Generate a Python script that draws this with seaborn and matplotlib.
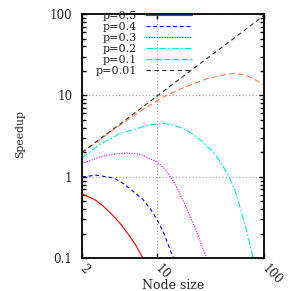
import numpy as np
import pandas as pd
import matplotlib
matplotlib.use("Agg")
import matplotlib.pyplot as plt
import seaborn as sns
from matplotlib.ticker import LogLocator, NullLocator, NullFormatter

# values (node size, speedup)
p_labels = ["p=0.5", "p=0.4", "p=0.3", "p=0.2", "p=0.1", "p=0.01"]

n_p05 = [2, 2.62, 3.1, 3.74, 4.5, 5.35, 6.3, 7.41, 7.7]
s_p05 = [0.62, 0.527, 0.447, 0.354, 0.272, 0.201, 0.148, 0.1, 0.09]

n_p04 = [2, 2.73, 3.92, 4.6, 5.58, 7.42, 8.87, 10.0, 11.5, 13.6, 14.4, 14.8]
s_p04 = [1.0, 1.05, 0.97, 0.87, 0.72, 0.527, 0.389, 0.30, 0.21, 0.118, 0.1, 0.093]

n_p03 = [2, 2.94, 4.0, 5.4, 7.0, 8.55, 10.0, 11.5, 13.1, 15.2, 17.5, 20.2,
         23.2, 26.0, 29.2, 30.0]
s_p03 = [1.46, 1.76, 1.9, 1.97, 1.88, 1.69, 1.53, 1.30, 1.05, 0.76, 0.52, 0.34,
         0.22, 0.148, 0.1, 0.092]

n_p02 = [2, 2.94, 4.53, 6.92, 8.55, 11.4, 14.1, 17.5, 20.1, 23.2, 26.8, 30.8,
         34.5, 38.2, 47.3, 54.0, 60.8, 70.0, 79.1, 81.0]
s_p02 = [1.71, 2.5, 3.41, 4.01, 4.33, 4.55, 4.33, 3.95, 3.58, 3.11, 2.70, 2.24,
         1.93, 1.61, 1.0, 0.66, 0.389, 0.2, 0.1, 0.09]

n_p01 = [2, 4, 7, 10, 12.3, 18, 28.8, 40, 50.8, 65, 78, 100]
s_p01 = [1.96, 3.86, 6.4, 8.6, 10.0, 12.6, 15.9, 17.6, 18.6, 18.0, 16.3, 13.5]

n_p001 = [2, 5, 10, 20, 50, 100]
s_p001 = [2.0, 4.9, 9.8, 19.5, 48, 96]

x_ticks = [2, 10, 100]
x_ticklabels = ["2", "10", "100"]
y_ticks = [0.1, 1, 10, 100]
y_ticklabels = ["0.1", "1", "10", "100"]

colors = ["#ff0000", "#0000ff", "#ff00ff", "#00e5e5", "#ff7f50", "#303030"]
dashes = ["", (3.5, 2.5), (1, 1.3), (6, 2, 1.5, 2), (5, 3), (4, 3)]


def main():
    series = [(n_p05, s_p05), (n_p04, s_p04), (n_p03, s_p03),
              (n_p02, s_p02), (n_p01, s_p01), (n_p001, s_p001)]
    frames = []
    for lab, (n, s) in zip(p_labels, series):
        frames.append(pd.DataFrame({"N": n, "S": s, "p": lab}))
    df = pd.concat(frames, ignore_index=True)

    sns.set_style("ticks")
    plt.rcParams["font.family"] = ["DejaVu Serif"]
    plt.rcParams["font.size"] = 8.6

    fig = plt.figure(figsize=(2.91, 2.91), dpi=100)
    ax = fig.add_axes([82 / 291, 1 - 258.3 / 291, 182 / 291, 244.3 / 291])

    sns.lineplot(data=df, x="N", y="S", hue="p", style="p",
                 hue_order=p_labels, style_order=p_labels,
                 palette=dict(zip(p_labels, colors)),
                 dashes=dict(zip(p_labels, dashes)),
                 estimator=None, sort=False, linewidth=0.8, ax=ax)

    ax.set_xscale("log")
    ax.set_yscale("log")
    ax.set_xlim(2, 100)
    ax.set_ylim(0.1, 100)

    ax.set_xticks(x_ticks)
    ax.set_xticklabels(x_ticklabels, rotation=-45, ha="left", va="center",
                       rotation_mode="anchor")
    ax.xaxis.set_minor_locator(NullLocator())
    ax.set_yticks(y_ticks)
    ax.set_yticklabels(y_ticklabels)
    ax.yaxis.set_minor_locator(LogLocator(base=10, subs=range(2, 10)))
    ax.yaxis.set_minor_formatter(NullFormatter())

    ax.tick_params(which="both", direction="in", top=True, right=True,
                   width=1.0, color="black")
    ax.tick_params(which="major", length=3.6)
    ax.tick_params(which="minor", length=2.6)
    ax.tick_params(axis="y", pad=7)
    ax.tick_params(axis="x", pad=6)

    ax.grid(True, which="major", color="#a0a0a0", linestyle=(0, (1, 2)),
            linewidth=0.8)
    for sp in ax.spines.values():
        sp.set_linewidth(1.3)
        sp.set_color("black")

    ax.set_xlabel("Node size", fontsize=9)
    ax.xaxis.set_label_coords(0.5, -0.085)
    ax.set_ylabel("Speedup", fontsize=7.8)
    ax.yaxis.set_label_coords(-0.313, 0.507)

    handles, labels = ax.get_legend_handles_labels()
    ax.legend(handles, labels, loc="upper left",
              bbox_to_anchor=(14 / 182, 1.012), frameon=False,
              markerfirst=False, borderpad=0, borderaxespad=0,
              handlelength=4.1, handletextpad=0.8, labelspacing=0.09,
              fontsize=8)

    fig.savefig("out.png", dpi=100)
    plt.close(fig)


if __name__ == "__main__":
    main()
